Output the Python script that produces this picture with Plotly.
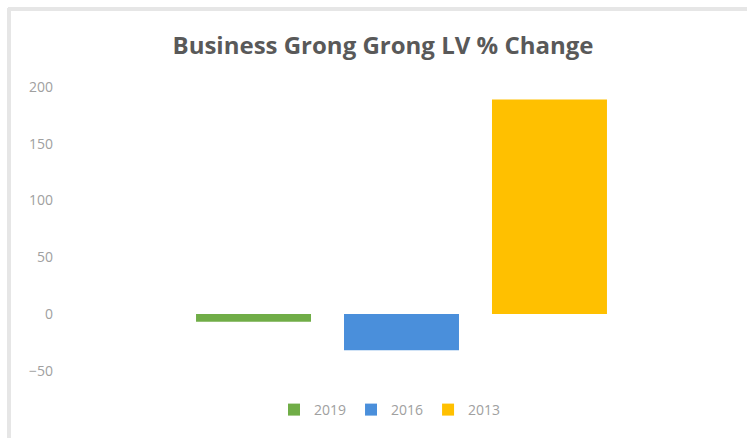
import plotly.graph_objects as go

# Percentage change in land value by revaluation year
category = ["Business Grong Grong LV"]
years = ["2019", "2016", "2013"]
pct_change = [-7, -32, 189]
colors = ["#70AD47", "#4A8FDB", "#FFC000"]

fig = go.Figure()
for yr, val, col in zip(years, pct_change, colors):
    fig.add_trace(go.Bar(
        x=category, y=[val], name=yr,
        marker=dict(color=col, line=dict(width=0)),
    ))

L, R, T, B = 60, 4, 87, 39
PW, PH = 747 - L - R, 438 - T - B

fig.update_layout(
    width=747, height=438,
    margin=dict(l=L, r=R, t=T, b=B, autoexpand=False),
    paper_bgcolor="white", plot_bgcolor="white",
    barmode="group", bargap=0.35, bargroupgap=0.223,
    font=dict(family="Open Sans, Liberation Sans, sans-serif", color="#9a9a9a"),
    title=dict(
        text="<b>Business Grong Grong LV % Change</b>",
        x=383 / 747, xref="container", xanchor="center",
        y=1 - 46 / 438, yref="container", yanchor="middle",
        font=dict(family="Open Sans, sans-serif", size=24, color="#595959"),
    ),
    xaxis=dict(showticklabels=False, showgrid=False, zeroline=False,
               showline=False, ticks="", range=[-0.5, 0.5]),
    yaxis=dict(range=[-75, 200], tickvals=[-50, 0, 50, 100, 150, 200],
               showgrid=False, zeroline=False, showline=False,
               tickfont=dict(size=14, color="#a0a0a0"), ticks="",
               ticklabelstandoff=6),
    legend=dict(orientation="h", x=(390 - L) / PW, xanchor="center",
                y=-(410 - (438 - B)) / PH, yanchor="middle",
                font=dict(size=14, color="#a0a0a0"),
                itemwidth=30, traceorder="normal"),
    showlegend=True,
)

# Light frame edges along the top and left of the card
fig.add_shape(type="line", xref="paper", yref="paper", layer="below",
              x0=-(L - 8) / PW, x1=1 + R / PW, y0=1 + (T - 9) / PH, y1=1 + (T - 9) / PH,
              line=dict(color="#e6e6e6", width=4))
fig.add_shape(type="line", xref="paper", yref="paper", layer="below",
              x0=-(L - 9) / PW, x1=-(L - 9) / PW, y0=-B / PH, y1=1 + (T - 8) / PH,
              line=dict(color="#e6e6e6", width=4))

fig.write_html("out.html")
